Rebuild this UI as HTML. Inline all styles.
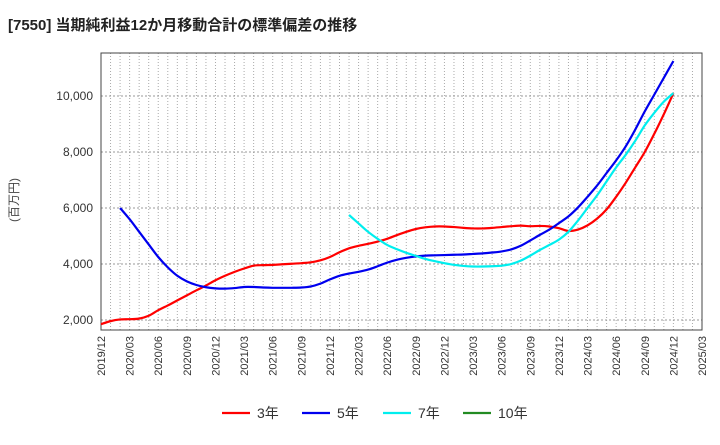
<!DOCTYPE html>
<html><head><meta charset="utf-8">
<style>
body{margin:0;background:#fff;width:720px;height:440px;overflow:hidden;font-family:"Liberation Sans","Noto Sans CJK JP",sans-serif;}
</style></head>
<body>
<svg id="chart" width="720" height="440" xmlns="http://www.w3.org/2000/svg" font-family="'Liberation Sans','Noto Sans CJK JP',sans-serif">
<text x="8" y="30" font-size="15" font-weight="bold" fill="#222">[7550]  当期純利益12か月移動合計の標準偏差の推移</text>
<text transform="translate(18,200) rotate(-90)" text-anchor="middle" font-size="12" fill="#444">(百万円)</text>
<g id="grid"></g><g id="axes"></g><g id="series"></g><g id="legend"></g>
</svg>
<script>
const xTickLabels=["2019/12","2020/03","2020/06","2020/09","2020/12","2021/03","2021/06","2021/09","2021/12","2022/03","2022/06","2022/09","2022/12","2023/03","2023/06","2023/09","2023/12","2024/03","2024/06","2024/09","2024/12","2025/03"];
const yTicks=[2000,4000,6000,8000,10000];
const s3Start=0;
const s3=[1850,1960,2020,2030,2050,2150,2350,2520,2700,2880,3060,3230,3420,3580,3720,3840,3940,3960,3970,3990,4010,4030,4060,4130,4250,4420,4560,4650,4720,4800,4900,5030,5150,5250,5310,5340,5340,5320,5290,5270,5270,5290,5320,5350,5370,5350,5360,5340,5280,5180,5230,5380,5620,5950,6400,6900,7450,8000,8650,9350,10100];
const s5Start=2;
const s5=[6000,5600,5150,4700,4250,3880,3580,3380,3250,3170,3130,3120,3140,3180,3180,3160,3150,3150,3150,3160,3200,3300,3450,3580,3660,3720,3800,3920,4050,4150,4220,4270,4300,4310,4320,4330,4340,4360,4380,4410,4450,4520,4650,4840,5040,5230,5460,5700,6020,6400,6800,7250,7700,8200,8800,9450,10050,10650,11250];
const s7Start=26;
const s7=[5750,5450,5150,4900,4680,4530,4400,4290,4180,4100,4030,3970,3930,3910,3910,3920,3940,4000,4120,4300,4500,4680,4870,5150,5550,6000,6450,6950,7450,7900,8400,8950,9400,9800,10100];
const s10=[];
const L=101,R=702,T=53,B=330,NM=63,YMIN=1643,YMAX=11536;
const X=i=>L+(R-L)*i/NM;
const Y=v=>B-(B-T)*(v-YMIN)/(YMAX-YMIN);
const NS="http://www.w3.org/2000/svg";
function mk(p,t,a){const e=document.createElementNS(NS,t);for(const k in a)e.setAttribute(k,a[k]);p.appendChild(e);return e;}
const grid=document.getElementById('grid'),axes=document.getElementById('axes'),ser=document.getElementById('series'),leg=document.getElementById('legend');
for(let m=1;m<NM;m++){const l=mk(grid,'line',{x1:X(m),x2:X(m),y1:T,y2:B,stroke:'#aaa','stroke-dasharray':'1,2','stroke-width':1});

}
yTicks.forEach(v=>{const l=mk(grid,'line',{x1:L,x2:R,y1:Y(v),y2:Y(v),stroke:'#999','stroke-dasharray':'2,2','stroke-width':1});


const t=mk(axes,'text',{x:L-8,y:Y(v)+4,'text-anchor':'end','font-size':12,fill:'#333'});t.textContent=v.toLocaleString('en-US');

});
xTickLabels.forEach((s,i)=>{const x=X(i*3);const t=mk(axes,'text',{transform:`translate(${x+4},${B+6}) rotate(-90)`,'text-anchor':'end','font-size':11,fill:'#333'});t.textContent=s;

});
const fr=mk(axes,'rect',{x:L,y:T,width:R-L,height:B-T,fill:'none',stroke:'#444','stroke-width':1});


function path(start,vals){const p=vals.map((v,i)=>[X(start+i),Y(v)]);if(p.length<2)return '';let d=`M${p[0][0]},${p[0][1]}`;
for(let i=0;i<p.length-1;i++){const p0=p[i-1]||p[i],p1=p[i],p2=p[i+1],p3=p[i+2]||p2;
d+=` C${p1[0]+(p2[0]-p0[0])/6},${p1[1]+(p2[1]-p0[1])/6} ${p2[0]-(p3[0]-p1[0])/6},${p2[1]-(p3[1]-p1[1])/6} ${p2[0]},${p2[1]}`;}return d;}
[[s3Start,s3,'#ff0000','series-3y'],[s5Start,s5,'#0000ee','series-5y'],[s7Start,s7,'#00eeee','series-7y'],[0,s10,'#228b22','series-10y']].forEach(([st,v,c,n])=>{
const e=mk(ser,'path',{d:path(st,v),fill:'none',stroke:c,'stroke-width':2.2});

});
[['3年','#ff0000',222],['5年','#0000ee',302],['7年','#00eeee',383],['10年','#228b22',463]].forEach(([lb,c,x])=>{
const g=mk(leg,'g',{});


mk(g,'line',{x1:x,x2:x+28,y1:413,y2:413,stroke:c,'stroke-width':2.2});
const t=mk(g,'text',{x:x+35,y:418,'font-size':14,fill:'#333'});t.textContent=lb;});
</script>
</body></html>
